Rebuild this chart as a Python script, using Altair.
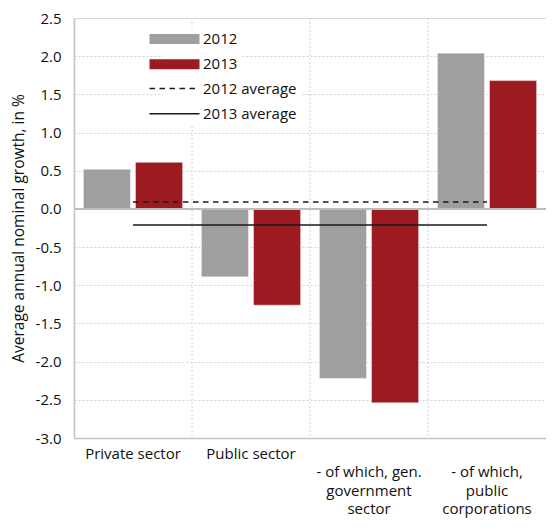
import altair as alt
import pandas as pd

categories = [
    "Private sector",
    "Public sector",
    "- of which, gen. government sector",
    "- of which, public corporations",
]
label_lines = [
    ["Private sector"],
    ["Public sector"],
    ["", "- of which, gen.", "government", "sector"],
    ["", "- of which,", "public", "corporations"],
]
years = ["2012", "2013"]
values_2012 = [0.52, -0.89, -2.22, 2.04]
values_2013 = [0.61, -1.26, -2.54, 1.68]
average_names = ["2012 average", "2013 average"]
average_values = [0.09, -0.21]
y_ticks = [2.5, 2.0, 1.5, 1.0, 0.5, 0.0, -0.5, -1.0, -1.5, -2.0, -2.5, -3.0]
zero_level = [0.0]

bar_colors = ["#9f9f9f", "#9b1b21"]
FONT = "Open Sans"
GRID = "#d2d2d2"
FRAME = "#c4c4c4"
TXT = "#111111"

bar_df = pd.DataFrame(
    [{"category": c, "year": years[0], "value": v} for c, v in zip(categories, values_2012)]
    + [{"category": c, "year": years[1], "value": v} for c, v in zip(categories, values_2013)]
)
avg_df = pd.DataFrame(
    [{"category": c, "series": s, "value": a}
     for s, a in zip(average_names, average_values) for c in categories]
)
cat_df = pd.DataFrame({"category": categories})
zero_df = pd.DataFrame({"value": zero_level})

# label expression mapping category -> list of lines
expr = "''"
for c, lines in reversed(list(zip(categories, label_lines))):
    arr = "[" + ",".join("'" + l + "'" for l in lines) + "]"
    expr = f"datum.value == '{c}' ? {arr} : ({expr})"

x_scale = alt.Scale(domain=categories, paddingInner=0, paddingOuter=0)
y_scale = alt.Scale(domain=[-3.0, 2.5], nice=False, zero=False)

x_axis = alt.Axis(
    title=None,
    labelExpr=expr,
    labelAngle=0,
    labelFont=FONT,
    labelFontSize=15,
    labelColor=TXT,
    labelLineHeight=18.5,
    labelBaseline="top",
    labelPadding=8,
    labelOverlap=False,
    ticks=False,
    grid=False,
    domainColor=FRAME,
    domainWidth=1.5,
    labelLimit=200,
)
y_axis = alt.Axis(
    title="Average annual nominal growth, in %",
    values=y_ticks,
    labelExpr="replace(format(datum.value, '.1f'), '\u2212', '-')",
    labelOverlap=False,
    labelFont=FONT,
    labelFontSize=15,
    labelColor=TXT,
    labelPadding=13,
    ticks=False,
    grid=True,
    gridColor=GRID,
    gridDash=[2, 2],
    gridWidth=1,
    domainColor=FRAME,
    domainWidth=1.5,
    titleFont=FONT,
    titleFontSize=15.5,
    titleFontWeight="normal",
    titleColor=TXT,
    titleX=-56,
    titleBaseline="middle",
)

legend_common = dict(
    title=None,
    orient="none",
    labelFont=FONT,
    labelFontSize=15,
    labelColor=TXT,
    labelOffset=21,
    rowPadding=9.3,
    padding=4,
    fillColor="white",
)

bars = alt.Chart(bar_df).mark_bar(stroke="white", strokeOpacity=0.45, strokeWidth=1).encode(
    x=alt.X("category:N", scale=x_scale, axis=x_axis),
    xOffset=alt.XOffset(
        "year:N", sort=years, scale=alt.Scale(paddingInner=0.095, paddingOuter=0.18)
    ),
    y=alt.Y("value:Q", scale=y_scale, axis=y_axis),
    fill=alt.Fill(
        "year:N",
        scale=alt.Scale(domain=years, range=bar_colors),
        legend=alt.Legend(
            legendX=89,
            legendY=9.5,
            symbolType="M-5,-1H5V1H-5Z",
            symbolSize=100,
            symbolStrokeWidth=0,
            **legend_common,
        ),
    ),
)

vgrid = alt.Chart(cat_df).mark_rule(color=GRID, strokeDash=[2, 2], strokeWidth=1).encode(
    x=alt.X("category:N", scale=x_scale, bandPosition=0, axis=x_axis)
)

zero_rule = alt.Chart(zero_df).mark_rule(color="#bdbdbd", strokeWidth=2).encode(
    y=alt.Y("value:Q", scale=y_scale, axis=y_axis)
)

avg_lines = alt.Chart(avg_df).mark_line(color="#1a1a1a", strokeWidth=1.6).encode(
    x=alt.X("category:N", scale=x_scale, axis=x_axis),
    y=alt.Y("value:Q", scale=y_scale, axis=y_axis),
    strokeDash=alt.StrokeDash(
        "series:N",
        scale=alt.Scale(domain=average_names, range=[[5.5, 4.5], [1, 0]]),
        legend=alt.Legend(
            legendX=89,
            legendY=59,
            symbolType="M-5,0H5",
            symbolSize=100,
            symbolFillColor="transparent",
            symbolStrokeColor="#1a1a1a",
            symbolStrokeWidth=1.6,
            **legend_common,
        ),
    ),
)

chart = (
    alt.layer(vgrid, bars, zero_rule, avg_lines)
    .properties(
        width=472,
        height=420,
        autosize=alt.AutoSizeParams(type="none"),
        padding={"left": 66, "top": 10, "right": 0, "bottom": 83},
    )
    .configure_view(stroke=FRAME, strokeWidth=1.5)
    .configure(background="white")
)

chart.save("out.html", embed_options={"renderer": "svg", "actions": False})
